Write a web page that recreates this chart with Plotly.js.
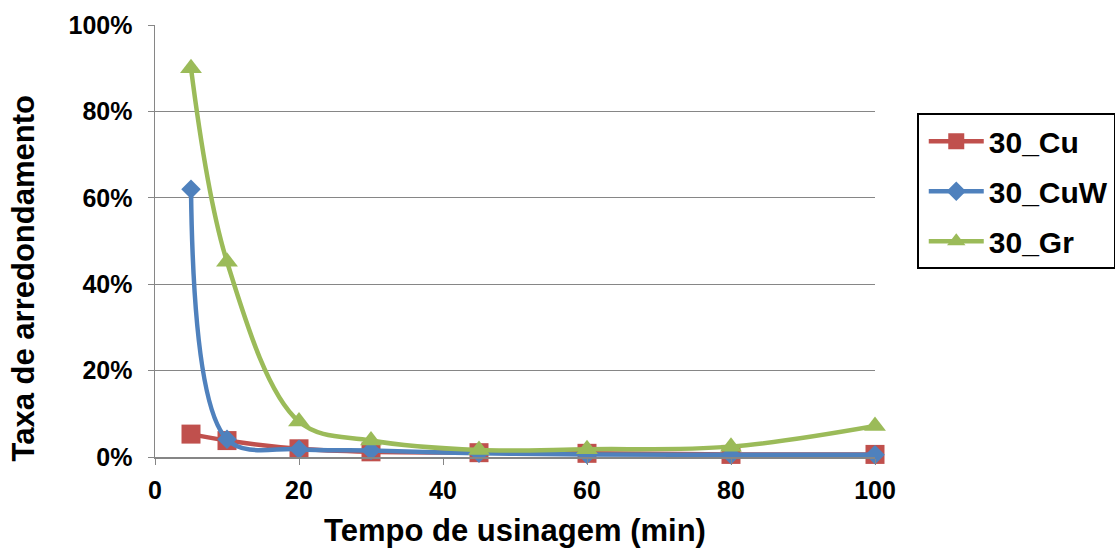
<!DOCTYPE html>
<html>
<head>
<meta charset="utf-8">
<script src="https://cdn.plot.ly/plotly-3.0.1.min.js"></script>
<style>
  html, body { margin: 0; padding: 0; background: #fff; }
  #chart { width: 1115px; height: 548px; }
</style>
</head>
<body>
<div id="chart"></div>
<script>
// Tempo de usinagem (min)
const tempo = [5, 10, 20, 30, 45, 60, 80, 100];

// Taxa de arredondamento (%) por eletrodo
const cu  = [5.3, 3.8, 1.9, 1.2, 1.0, 0.85, 0.6, 0.6];
const cuw = [62, 4.1, 1.8, 1.5, 0.85, 0.6, 0.5, 0.5];
const gr  = [90, 45.2, 8.2, 3.8, 1.6, 1.8, 2.4, 7.2];

const seriesNames = ['30_Cu', '30_CuW', '30_Gr'];
const yTicks = [0, 20, 40, 60, 80, 100];
const xTicks = [0, 20, 40, 60, 80, 100];

const font = 'Arial, "Liberation Sans", sans-serif';

function serie(name, y, color, symbol, size, group) {
  return {
    x: tempo, y: y, name: name, type: 'scatter', mode: 'lines+markers',
    legendgroup: group,
    line: { color: color, width: 4.5, shape: 'spline', smoothing: 1 },
    marker: { color: color, symbol: symbol, size: size },
    cliponaxis: false
  };
}

const data = [
  serie(seriesNames[0], cu,  '#C0504D', 'square', 19, 'a'),
  serie(seriesNames[1], cuw, '#4F81BD', 'diamond', 15, 'b'),
  serie(seriesNames[2], gr,  '#9BBB59', 'triangle-up', 19, 'c')
];

const layout = {
  width: 1115, height: 548,
  margin: { l: 155, r: 240, t: 25, b: 91, autoexpand: false },
  paper_bgcolor: '#fff', plot_bgcolor: '#fff',
  font: { family: font, color: '#000', size: 25, weight: 'bold' },
  showlegend: true,
  legend: {
    x: 1.058, y: 0.796, xanchor: 'left', yanchor: 'top',
    bordercolor: '#000', borderwidth: 2,
    font: { family: font, size: 30, color: '#000', weight: 'bold' },
    itemwidth: 60,
    tracegroupgap: 8,
    bgcolor: '#fff'
  },
  xaxis: {
    range: [0, 100], tickvals: xTicks, ticktext: xTicks.map(String),
    showline: true, linecolor: '#868686', linewidth: 1.5,
    showgrid: false, zeroline: false,
    ticks: 'outside', ticklen: 6, tickcolor: '#868686',
    ticklabelstandoff: 4,
    tickfont: { family: font, size: 25, color: '#000', weight: 'bold' },
    title: { text: 'Tempo de usinagem (min)', standoff: 17,
             font: { family: font, size: 31, color: '#000', weight: 'bold' } }
  },
  yaxis: {
    range: [0, 100], tickvals: yTicks, ticktext: yTicks.map(v => v + '%'),
    showline: true, linecolor: '#868686', linewidth: 1.5,
    showgrid: true, gridcolor: '#868686', gridwidth: 1,
    zeroline: false,
    ticks: 'outside', ticklen: 6, tickcolor: '#868686',
    ticklabelstandoff: 10,
    tickfont: { family: font, size: 25, color: '#000', weight: 'bold' }
  },
  annotations: [{
    text: 'Taxa de arredondamento',
    xref: 'paper', yref: 'paper',
    x: -0.183, y: 0.414, xanchor: 'center', yanchor: 'middle',
    textangle: -90, showarrow: false,
    font: { family: font, size: 31, color: '#000', weight: 'bold' }
  }]
};

Plotly.newPlot('chart', data, layout, { displayModeBar: false, staticPlot: true })
  .then(function (gd) {
    // longer legend sample lines, with the symbol at their middle
    gd.querySelectorAll('.legend .traces').forEach(function (item) {
      item.querySelectorAll('.legendlines path').forEach(function (p) {
        p.setAttribute('d', 'M10,0h55');
      });
      item.querySelectorAll('.legendpoints path').forEach(function (p) {
        p.setAttribute('transform', 'translate(37.5,0)');
      });
    });
  });
</script>
</body>
</html>
